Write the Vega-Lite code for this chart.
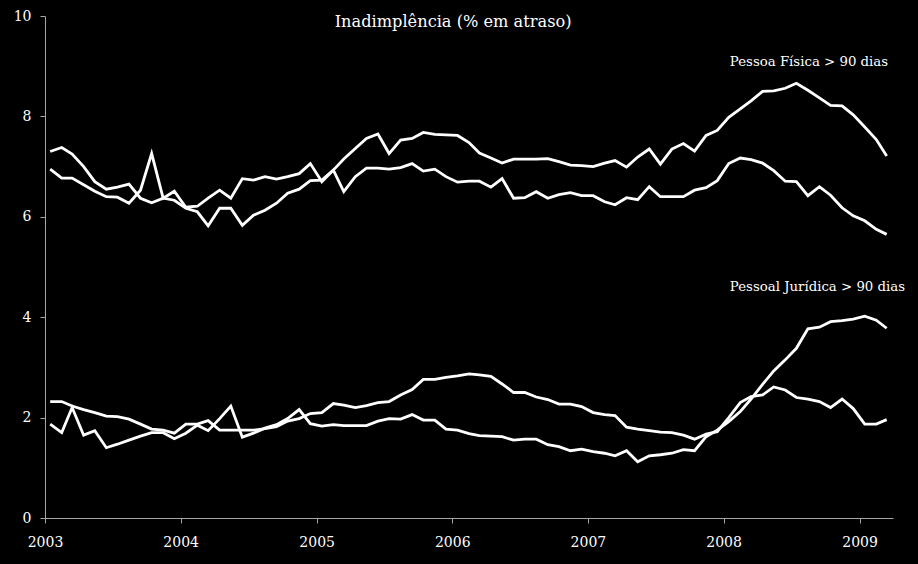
{
"$schema": "https://vega.github.io/schema/vega-lite/v6.json",
"width": 848, "height": 502,
"autosize": {"type": "none"},
"padding": {"left": 45, "top": 16, "right": 25, "bottom": 46},
"background": "black",
"title": {"text": "Inadimplência (% em atraso)", "font": "DejaVu Serif", "fontSize": 16.2, "fontWeight": "normal", "color": "white", "anchor": "middle", "frame": "bounds", "offset": -21, "dx": -6},
"config": {"view": {"stroke": null}},
"layer": [
{"data": {"values": [
{"month":"2003-01-15","series":"PF1","value":7.30},{"month":"2003-02-15","series":"PF1","value":7.38},{"month":"2003-03-15","series":"PF1","value":7.25},{"month":"2003-04-15","series":"PF1","value":7.00},{"month":"2003-05-15","series":"PF1","value":6.70},{"month":"2003-06-15","series":"PF1","value":6.55},{"month":"2003-07-15","series":"PF1","value":6.59},{"month":"2003-08-15","series":"PF1","value":6.65},{"month":"2003-09-15","series":"PF1","value":6.37},{"month":"2003-10-15","series":"PF1","value":6.28},{"month":"2003-11-15","series":"PF1","value":6.37},{"month":"2003-12-15","series":"PF1","value":6.33},
{"month":"2004-01-15","series":"PF1","value":6.17},{"month":"2004-02-15","series":"PF1","value":6.10},{"month":"2004-03-15","series":"PF1","value":5.82},{"month":"2004-04-15","series":"PF1","value":6.17},{"month":"2004-05-15","series":"PF1","value":6.17},{"month":"2004-06-15","series":"PF1","value":5.83},{"month":"2004-07-15","series":"PF1","value":6.03},{"month":"2004-08-15","series":"PF1","value":6.13},{"month":"2004-09-15","series":"PF1","value":6.27},{"month":"2004-10-15","series":"PF1","value":6.47},{"month":"2004-11-15","series":"PF1","value":6.55},{"month":"2004-12-15","series":"PF1","value":6.72},
{"month":"2005-01-15","series":"PF1","value":6.73},{"month":"2005-02-15","series":"PF1","value":6.93},{"month":"2005-03-15","series":"PF1","value":7.15},{"month":"2005-04-15","series":"PF1","value":7.36},{"month":"2005-05-15","series":"PF1","value":7.56},{"month":"2005-06-15","series":"PF1","value":7.65},{"month":"2005-07-15","series":"PF1","value":7.26},{"month":"2005-08-15","series":"PF1","value":7.53},{"month":"2005-09-15","series":"PF1","value":7.56},{"month":"2005-10-15","series":"PF1","value":7.68},{"month":"2005-11-15","series":"PF1","value":7.64},{"month":"2005-12-15","series":"PF1","value":7.63},
{"month":"2006-01-15","series":"PF1","value":7.62},{"month":"2006-02-15","series":"PF1","value":7.48},{"month":"2006-03-15","series":"PF1","value":7.27},{"month":"2006-04-15","series":"PF1","value":7.17},{"month":"2006-05-15","series":"PF1","value":7.07},{"month":"2006-06-15","series":"PF1","value":7.15},{"month":"2006-07-15","series":"PF1","value":7.15},{"month":"2006-08-15","series":"PF1","value":7.15},{"month":"2006-09-15","series":"PF1","value":7.16},{"month":"2006-10-15","series":"PF1","value":7.10},{"month":"2006-11-15","series":"PF1","value":7.03},{"month":"2006-12-15","series":"PF1","value":7.02},
{"month":"2007-01-15","series":"PF1","value":7.00},{"month":"2007-02-15","series":"PF1","value":7.07},{"month":"2007-03-15","series":"PF1","value":7.12},{"month":"2007-04-15","series":"PF1","value":6.99},{"month":"2007-05-15","series":"PF1","value":7.19},{"month":"2007-06-15","series":"PF1","value":7.35},{"month":"2007-07-15","series":"PF1","value":7.05},{"month":"2007-08-15","series":"PF1","value":7.35},{"month":"2007-09-15","series":"PF1","value":7.46},{"month":"2007-10-15","series":"PF1","value":7.31},{"month":"2007-11-15","series":"PF1","value":7.62},{"month":"2007-12-15","series":"PF1","value":7.72},
{"month":"2008-01-15","series":"PF1","value":7.98},{"month":"2008-02-15","series":"PF1","value":8.15},{"month":"2008-03-15","series":"PF1","value":8.31},{"month":"2008-04-15","series":"PF1","value":8.50},{"month":"2008-05-15","series":"PF1","value":8.51},{"month":"2008-06-15","series":"PF1","value":8.56},{"month":"2008-07-15","series":"PF1","value":8.66},{"month":"2008-08-15","series":"PF1","value":8.52},{"month":"2008-09-15","series":"PF1","value":8.37},{"month":"2008-10-15","series":"PF1","value":8.22},{"month":"2008-11-15","series":"PF1","value":8.21},{"month":"2008-12-15","series":"PF1","value":8.03},
{"month":"2009-01-15","series":"PF1","value":7.79},{"month":"2009-02-15","series":"PF1","value":7.54},{"month":"2009-03-15","series":"PF1","value":7.21},
{"month":"2003-01-15","series":"PF2","value":6.95},{"month":"2003-02-15","series":"PF2","value":6.77},{"month":"2003-03-15","series":"PF2","value":6.77},{"month":"2003-04-15","series":"PF2","value":6.64},{"month":"2003-05-15","series":"PF2","value":6.51},{"month":"2003-06-15","series":"PF2","value":6.40},{"month":"2003-07-15","series":"PF2","value":6.39},{"month":"2003-08-15","series":"PF2","value":6.27},{"month":"2003-09-15","series":"PF2","value":6.53},{"month":"2003-10-15","series":"PF2","value":7.26},{"month":"2003-11-15","series":"PF2","value":6.37},{"month":"2003-12-15","series":"PF2","value":6.51},
{"month":"2004-01-15","series":"PF2","value":6.19},{"month":"2004-02-15","series":"PF2","value":6.21},{"month":"2004-03-15","series":"PF2","value":6.37},{"month":"2004-04-15","series":"PF2","value":6.53},{"month":"2004-05-15","series":"PF2","value":6.37},{"month":"2004-06-15","series":"PF2","value":6.76},{"month":"2004-07-15","series":"PF2","value":6.73},{"month":"2004-08-15","series":"PF2","value":6.80},{"month":"2004-09-15","series":"PF2","value":6.75},{"month":"2004-10-15","series":"PF2","value":6.80},{"month":"2004-11-15","series":"PF2","value":6.86},{"month":"2004-12-15","series":"PF2","value":7.06},
{"month":"2005-01-15","series":"PF2","value":6.70},{"month":"2005-02-15","series":"PF2","value":6.93},{"month":"2005-03-15","series":"PF2","value":6.50},{"month":"2005-04-15","series":"PF2","value":6.80},{"month":"2005-05-15","series":"PF2","value":6.97},{"month":"2005-06-15","series":"PF2","value":6.97},{"month":"2005-07-15","series":"PF2","value":6.95},{"month":"2005-08-15","series":"PF2","value":6.98},{"month":"2005-09-15","series":"PF2","value":7.06},{"month":"2005-10-15","series":"PF2","value":6.91},{"month":"2005-11-15","series":"PF2","value":6.95},{"month":"2005-12-15","series":"PF2","value":6.80},
{"month":"2006-01-15","series":"PF2","value":6.69},{"month":"2006-02-15","series":"PF2","value":6.71},{"month":"2006-03-15","series":"PF2","value":6.71},{"month":"2006-04-15","series":"PF2","value":6.59},{"month":"2006-05-15","series":"PF2","value":6.76},{"month":"2006-06-15","series":"PF2","value":6.37},{"month":"2006-07-15","series":"PF2","value":6.38},{"month":"2006-08-15","series":"PF2","value":6.50},{"month":"2006-09-15","series":"PF2","value":6.37},{"month":"2006-10-15","series":"PF2","value":6.44},{"month":"2006-11-15","series":"PF2","value":6.48},{"month":"2006-12-15","series":"PF2","value":6.42},
{"month":"2007-01-15","series":"PF2","value":6.42},{"month":"2007-02-15","series":"PF2","value":6.30},{"month":"2007-03-15","series":"PF2","value":6.24},{"month":"2007-04-15","series":"PF2","value":6.38},{"month":"2007-05-15","series":"PF2","value":6.34},{"month":"2007-06-15","series":"PF2","value":6.60},{"month":"2007-07-15","series":"PF2","value":6.40},{"month":"2007-08-15","series":"PF2","value":6.40},{"month":"2007-09-15","series":"PF2","value":6.40},{"month":"2007-10-15","series":"PF2","value":6.53},{"month":"2007-11-15","series":"PF2","value":6.58},{"month":"2007-12-15","series":"PF2","value":6.72},
{"month":"2008-01-15","series":"PF2","value":7.06},{"month":"2008-02-15","series":"PF2","value":7.17},{"month":"2008-03-15","series":"PF2","value":7.14},{"month":"2008-04-15","series":"PF2","value":7.07},{"month":"2008-05-15","series":"PF2","value":6.92},{"month":"2008-06-15","series":"PF2","value":6.71},{"month":"2008-07-15","series":"PF2","value":6.70},{"month":"2008-08-15","series":"PF2","value":6.42},{"month":"2008-09-15","series":"PF2","value":6.60},{"month":"2008-10-15","series":"PF2","value":6.43},{"month":"2008-11-15","series":"PF2","value":6.18},{"month":"2008-12-15","series":"PF2","value":6.02},
{"month":"2009-01-15","series":"PF2","value":5.92},{"month":"2009-02-15","series":"PF2","value":5.75},{"month":"2009-03-15","series":"PF2","value":5.65},
{"month":"2003-01-15","series":"PJ1","value":2.32},{"month":"2003-02-15","series":"PJ1","value":2.32},{"month":"2003-03-15","series":"PJ1","value":2.23},{"month":"2003-04-15","series":"PJ1","value":2.16},{"month":"2003-05-15","series":"PJ1","value":2.10},{"month":"2003-06-15","series":"PJ1","value":2.03},{"month":"2003-07-15","series":"PJ1","value":2.02},{"month":"2003-08-15","series":"PJ1","value":1.97},{"month":"2003-09-15","series":"PJ1","value":1.87},{"month":"2003-10-15","series":"PJ1","value":1.77},{"month":"2003-11-15","series":"PJ1","value":1.75},{"month":"2003-12-15","series":"PJ1","value":1.69},
{"month":"2004-01-15","series":"PJ1","value":1.87},{"month":"2004-02-15","series":"PJ1","value":1.87},{"month":"2004-03-15","series":"PJ1","value":1.94},{"month":"2004-04-15","series":"PJ1","value":1.75},{"month":"2004-05-15","series":"PJ1","value":1.75},{"month":"2004-06-15","series":"PJ1","value":1.75},{"month":"2004-07-15","series":"PJ1","value":1.75},{"month":"2004-08-15","series":"PJ1","value":1.78},{"month":"2004-09-15","series":"PJ1","value":1.82},{"month":"2004-10-15","series":"PJ1","value":1.93},{"month":"2004-11-15","series":"PJ1","value":1.98},{"month":"2004-12-15","series":"PJ1","value":2.08},
{"month":"2005-01-15","series":"PJ1","value":2.10},{"month":"2005-02-15","series":"PJ1","value":2.28},{"month":"2005-03-15","series":"PJ1","value":2.25},{"month":"2005-04-15","series":"PJ1","value":2.20},{"month":"2005-05-15","series":"PJ1","value":2.24},{"month":"2005-06-15","series":"PJ1","value":2.30},{"month":"2005-07-15","series":"PJ1","value":2.32},{"month":"2005-08-15","series":"PJ1","value":2.45},{"month":"2005-09-15","series":"PJ1","value":2.56},{"month":"2005-10-15","series":"PJ1","value":2.76},{"month":"2005-11-15","series":"PJ1","value":2.76},{"month":"2005-12-15","series":"PJ1","value":2.80},
{"month":"2006-01-15","series":"PJ1","value":2.83},{"month":"2006-02-15","series":"PJ1","value":2.87},{"month":"2006-03-15","series":"PJ1","value":2.85},{"month":"2006-04-15","series":"PJ1","value":2.82},{"month":"2006-05-15","series":"PJ1","value":2.67},{"month":"2006-06-15","series":"PJ1","value":2.50},{"month":"2006-07-15","series":"PJ1","value":2.50},{"month":"2006-08-15","series":"PJ1","value":2.41},{"month":"2006-09-15","series":"PJ1","value":2.36},{"month":"2006-10-15","series":"PJ1","value":2.27},{"month":"2006-11-15","series":"PJ1","value":2.27},{"month":"2006-12-15","series":"PJ1","value":2.22},
{"month":"2007-01-15","series":"PJ1","value":2.10},{"month":"2007-02-15","series":"PJ1","value":2.06},{"month":"2007-03-15","series":"PJ1","value":2.04},{"month":"2007-04-15","series":"PJ1","value":1.81},{"month":"2007-05-15","series":"PJ1","value":1.77},{"month":"2007-06-15","series":"PJ1","value":1.74},{"month":"2007-07-15","series":"PJ1","value":1.71},{"month":"2007-08-15","series":"PJ1","value":1.70},{"month":"2007-09-15","series":"PJ1","value":1.65},{"month":"2007-10-15","series":"PJ1","value":1.57},{"month":"2007-11-15","series":"PJ1","value":1.67},{"month":"2007-12-15","series":"PJ1","value":1.72},
{"month":"2008-01-15","series":"PJ1","value":2.00},{"month":"2008-02-15","series":"PJ1","value":2.30},{"month":"2008-03-15","series":"PJ1","value":2.42},{"month":"2008-04-15","series":"PJ1","value":2.45},{"month":"2008-05-15","series":"PJ1","value":2.61},{"month":"2008-06-15","series":"PJ1","value":2.55},{"month":"2008-07-15","series":"PJ1","value":2.40},{"month":"2008-08-15","series":"PJ1","value":2.37},{"month":"2008-09-15","series":"PJ1","value":2.32},{"month":"2008-10-15","series":"PJ1","value":2.20},{"month":"2008-11-15","series":"PJ1","value":2.37},{"month":"2008-12-15","series":"PJ1","value":2.18},
{"month":"2009-01-15","series":"PJ1","value":1.87},{"month":"2009-02-15","series":"PJ1","value":1.87},{"month":"2009-03-15","series":"PJ1","value":1.96},
{"month":"2003-01-15","series":"PJ2","value":1.87},{"month":"2003-02-15","series":"PJ2","value":1.70},{"month":"2003-03-15","series":"PJ2","value":2.20},{"month":"2003-04-15","series":"PJ2","value":1.65},{"month":"2003-05-15","series":"PJ2","value":1.74},{"month":"2003-06-15","series":"PJ2","value":1.40},{"month":"2003-07-15","series":"PJ2","value":1.47},{"month":"2003-08-15","series":"PJ2","value":1.55},{"month":"2003-09-15","series":"PJ2","value":1.63},{"month":"2003-10-15","series":"PJ2","value":1.70},{"month":"2003-11-15","series":"PJ2","value":1.70},{"month":"2003-12-15","series":"PJ2","value":1.58},
{"month":"2004-01-15","series":"PJ2","value":1.69},{"month":"2004-02-15","series":"PJ2","value":1.85},{"month":"2004-03-15","series":"PJ2","value":1.74},{"month":"2004-04-15","series":"PJ2","value":1.98},{"month":"2004-05-15","series":"PJ2","value":2.23},{"month":"2004-06-15","series":"PJ2","value":1.61},{"month":"2004-07-15","series":"PJ2","value":1.69},{"month":"2004-08-15","series":"PJ2","value":1.79},{"month":"2004-09-15","series":"PJ2","value":1.86},{"month":"2004-10-15","series":"PJ2","value":1.98},{"month":"2004-11-15","series":"PJ2","value":2.16},{"month":"2004-12-15","series":"PJ2","value":1.88},
{"month":"2005-01-15","series":"PJ2","value":1.83},{"month":"2005-02-15","series":"PJ2","value":1.86},{"month":"2005-03-15","series":"PJ2","value":1.84},{"month":"2005-04-15","series":"PJ2","value":1.84},{"month":"2005-05-15","series":"PJ2","value":1.84},{"month":"2005-06-15","series":"PJ2","value":1.93},{"month":"2005-07-15","series":"PJ2","value":1.98},{"month":"2005-08-15","series":"PJ2","value":1.97},{"month":"2005-09-15","series":"PJ2","value":2.06},{"month":"2005-10-15","series":"PJ2","value":1.95},{"month":"2005-11-15","series":"PJ2","value":1.95},{"month":"2005-12-15","series":"PJ2","value":1.77},
{"month":"2006-01-15","series":"PJ2","value":1.75},{"month":"2006-02-15","series":"PJ2","value":1.68},{"month":"2006-03-15","series":"PJ2","value":1.64},{"month":"2006-04-15","series":"PJ2","value":1.63},{"month":"2006-05-15","series":"PJ2","value":1.62},{"month":"2006-06-15","series":"PJ2","value":1.55},{"month":"2006-07-15","series":"PJ2","value":1.57},{"month":"2006-08-15","series":"PJ2","value":1.57},{"month":"2006-09-15","series":"PJ2","value":1.46},{"month":"2006-10-15","series":"PJ2","value":1.42},{"month":"2006-11-15","series":"PJ2","value":1.34},{"month":"2006-12-15","series":"PJ2","value":1.37},
{"month":"2007-01-15","series":"PJ2","value":1.32},{"month":"2007-02-15","series":"PJ2","value":1.29},{"month":"2007-03-15","series":"PJ2","value":1.24},{"month":"2007-04-15","series":"PJ2","value":1.34},{"month":"2007-05-15","series":"PJ2","value":1.12},{"month":"2007-06-15","series":"PJ2","value":1.24},{"month":"2007-07-15","series":"PJ2","value":1.26},{"month":"2007-08-15","series":"PJ2","value":1.29},{"month":"2007-09-15","series":"PJ2","value":1.36},{"month":"2007-10-15","series":"PJ2","value":1.34},{"month":"2007-11-15","series":"PJ2","value":1.62},{"month":"2007-12-15","series":"PJ2","value":1.75},
{"month":"2008-01-15","series":"PJ2","value":1.92},{"month":"2008-02-15","series":"PJ2","value":2.12},{"month":"2008-03-15","series":"PJ2","value":2.37},{"month":"2008-04-15","series":"PJ2","value":2.66},{"month":"2008-05-15","series":"PJ2","value":2.93},{"month":"2008-06-15","series":"PJ2","value":3.15},{"month":"2008-07-15","series":"PJ2","value":3.38},{"month":"2008-08-15","series":"PJ2","value":3.77},{"month":"2008-09-15","series":"PJ2","value":3.80},{"month":"2008-10-15","series":"PJ2","value":3.91},{"month":"2008-11-15","series":"PJ2","value":3.93},{"month":"2008-12-15","series":"PJ2","value":3.96},
{"month":"2009-01-15","series":"PJ2","value":4.02},{"month":"2009-02-15","series":"PJ2","value":3.94},{"month":"2009-03-15","series":"PJ2","value":3.78}
]},
 "mark": {"type": "line", "color": "white", "strokeWidth": 2.8},
 "encoding": {
  "x": {"field": "month", "type": "temporal",
        "scale": {"type": "utc", "domain": [{"year": 2003, "month": 1, "date": 1, "utc": true}, {"year": 2009, "month": 4, "date": 1, "utc": true}]},
        "axis": {"title": null, "format": "%Y", "tickCount": {"interval": "year", "step": 1}, "grid": false, "labelDx": 5, "tickSize": 5, "labelPadding": 12, "domainColor": "#a6a6a6", "tickColor": "#a6a6a6", "labelColor": "white", "labelFont": "DejaVu Serif", "labelFontSize": 14, "labelFlush": false, "labelOverlap": false}},
  "y": {"field": "value", "type": "quantitative",
        "scale": {"domain": [0, 10]},
        "axis": {"title": null, "values": [0, 2, 4, 6, 8, 10], "grid": false, "tickSize": 5, "labelPadding": 9, "domainColor": "#a6a6a6", "tickColor": "#a6a6a6", "labelColor": "white", "labelFont": "DejaVu Serif", "labelFontSize": 14}},
  "detail": {"field": "series"}
 }},
{"data": {"values": [{"label": "Pessoa Física > 90 dias"}]},
 "mark": {"type": "text", "align": "left", "baseline": "middle", "fill": "white", "font": "DejaVu Serif", "fontSize": 13.3, "fontWeight": "normal"},
 "encoding": {
  "x": {"datum": {"year": 2008, "month": 1, "date": 18, "utc": true}, "type": "temporal"},
  "y": {"datum": 9.08},
  "text": {"field": "label"}
 }},
{"data": {"values": [{"label": "Pessoal Jurídica > 90 dias"}]},
 "mark": {"type": "text", "align": "left", "baseline": "middle", "fill": "white", "font": "DejaVu Serif", "fontSize": 13.3, "fontWeight": "normal"},
 "encoding": {
  "x": {"datum": {"year": 2008, "month": 1, "date": 18, "utc": true}, "type": "temporal"},
  "y": {"datum": 4.6},
  "text": {"field": "label"}
 }}
]
}
